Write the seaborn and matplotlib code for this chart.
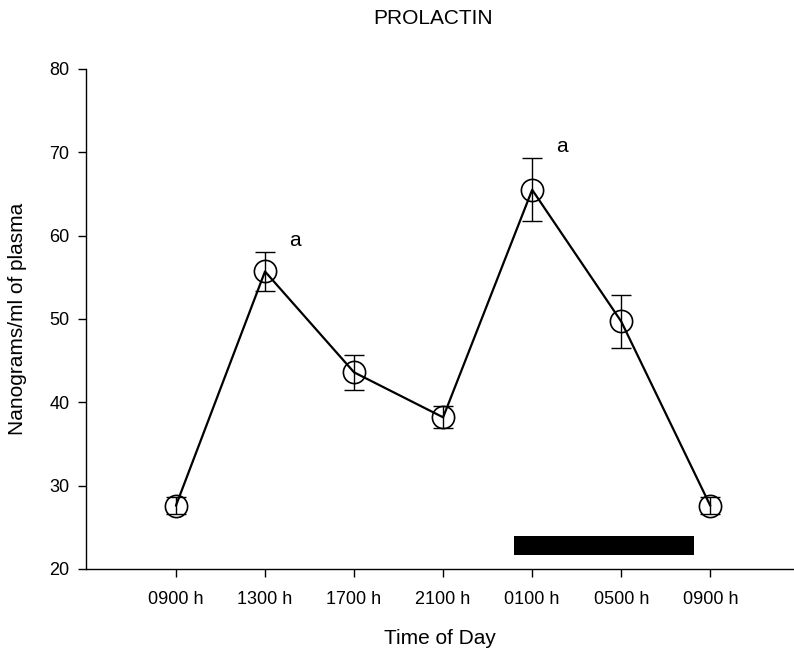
import seaborn as sns
import pandas as pd
import matplotlib.pyplot as plt

# --- PROLACTIN: plasma levels across the day ---

times = ['0900 h', '1300 h', '1700 h', '2100 h', '0100 h', '0500 h', '0900 h']
prolactin = [27.6, 55.7, 43.6, 38.2, 65.5, 49.7, 27.6]
sem = [1.0, 2.3, 2.1, 1.3, 3.8, 3.2, 1.0]
sig_labels = ['', 'a', '', '', 'a', '', '']

# dark period bar (in x-position units) and its vertical extent
dark_start, dark_end = 3.8, 5.82
dark_low, dark_high = 21.7, 23.9

df = pd.DataFrame({'pos': range(len(times)), 'prolactin': prolactin, 'sem': sem})

sns.set_style('ticks')
plt.rcParams['font.family'] = ['Liberation Sans', 'DejaVu Sans']
plt.rcParams['text.color'] = 'black'
plt.rcParams['axes.labelcolor'] = 'black'
plt.rcParams['xtick.color'] = 'black'
plt.rcParams['ytick.color'] = 'black'

fig = plt.figure(figsize=(7.94, 6.55), dpi=100)
ax = fig.add_axes([0.1083, 0.1313, 0.8917, 0.7634])

sns.lineplot(data=df, x='pos', y='prolactin', color='black', lw=1.6,
             marker='o', markersize=16, markerfacecolor='none',
             markeredgecolor='black', markeredgewidth=1.2, ax=ax, zorder=2)
ax.errorbar(df['pos'], df['prolactin'], yerr=df['sem'], fmt='none',
            ecolor='black', elinewidth=1, capsize=7, capthick=1, zorder=3)

for x, y, e, lab in zip(df['pos'], prolactin, sem, sig_labels):
    if lab:
        ax.text(x + 0.27, y + e + 0.3, lab, fontsize=15, ha='left', va='bottom')

ax.fill_between([dark_start, dark_end], dark_low, dark_high, color='black', lw=0)

ax.set_xlim(-1.01, 6.94)
ax.set_ylim(20, 80)
ax.set_xticks(range(len(times)))
ax.set_xticklabels(times)
ax.set_yticks(range(20, 81, 10))
ax.tick_params(labelsize=13, length=6, width=1, direction='out')
ax.tick_params(axis='x', pad=10)
ax.tick_params(axis='y', pad=6)
ax.set_xlabel('Time of Day', fontsize=15, labelpad=15)
ax.set_ylabel('Nanograms/ml of plasma', fontsize=15, labelpad=16)
sns.despine(ax=ax)
for s in ['left', 'bottom']:
    ax.spines[s].set_color('black')
    ax.spines[s].set_linewidth(1)

fig.text(433 / 794, 1 - 18 / 655, 'PROLACTIN', fontsize=15, ha='center', va='center')

fig.savefig('out.png', dpi=100)
